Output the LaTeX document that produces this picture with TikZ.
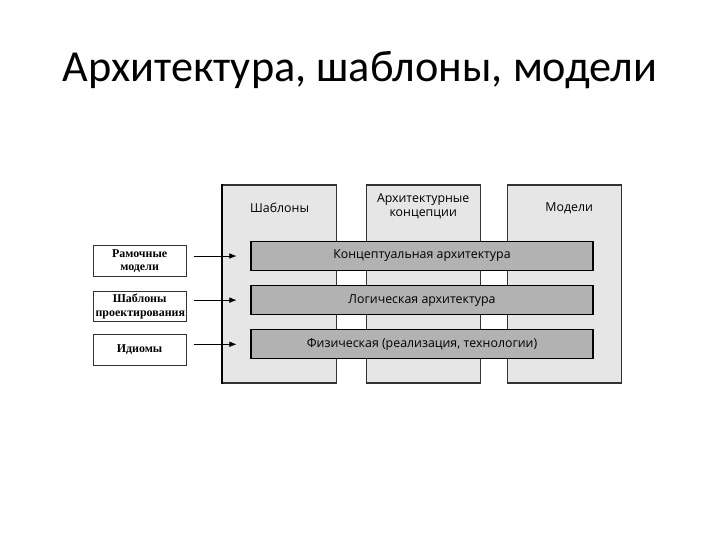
\documentclass[tikz,border=0pt]{standalone}
\usepackage{fontspec}
\usepackage{xcolor}
\usepackage{tikz}
\usetikzlibrary{arrows.meta,positioning,calc}
\newfontfamily\titlefont{Carlito}
\newfontfamily\labelfont{Open Sans}
\newfontfamily\boxfont{Liberation Serif}
\definecolor{colGray}{RGB}{230,230,230}
\definecolor{barGray}{RGB}{178,178,178}

\begin{document}
\begin{tikzpicture}[
        column/.style={draw=black!80, line width=0.8pt,
                       fill=colGray,
                       minimum width=2.85cm, minimum height=4.95cm},
        layer/.style={draw=black, line width=0.8pt,
                      fill=barGray, font=\labelfont\fontsize{8.8}{10}\selectfont,
                      minimum width=8.55cm, minimum height=0.72cm},
        collabel/.style={font=\labelfont\fontsize{8.8}{10}\selectfont,
                         align=center, anchor=north},
        source/.style={draw=black!80, line width=0.6pt,
                       text width=2.2cm, align=center, inner sep=1pt,
                       font=\boxfont\bfseries\fontsize{8.5}{9.5}\selectfont,
                       minimum width=2.325cm, minimum height=0.76cm},
        arr/.style={-{Latex[length=5pt,width=4pt]}, thin, black},
        node distance=0.355cm]
        \useasboundingbox (0,0) rectangle (18,-13.5);
        % title
        \node[font=\titlefont\fontsize{31.5}{36}\selectfont] (title)
          at (9,-1.75) {Архитектура, шаблоны, модели};
        % columns
        \node[column] (patterns) at (6.99,-7.1) {};
        \node[column] (concepts) at (10.58,-7.1) {};
        \node[column] (models)   at (14.11,-7.1) {};
        \draw[line width=1pt] (patterns.north west) -- (patterns.south west);
        \node[collabel] (patternsl) at ([yshift=-0.33cm]patterns.north)
          {Шаблоны};
        \node[collabel] (conceptsl) at ([yshift=-0.1cm]concepts.north)
          {Архитектурные\\концепции};
        \node[collabel] (modelsl) at ([xshift=0.12cm,yshift=-0.33cm]models.north)
          {Модели};
        % layers
        \node[layer] (conceptual) at (10.55,-6.4)
          {Концептуальная архитектура};
        \node[layer, below=of conceptual] (logical)
          {Логическая архитектура};
        \node[layer, below=of logical] (physical)
          {Физическая (реализация, технологии)};
        % sources
        \node[source] (frame) at (3.49,-6.525)
          {Рамочные\\модели};
        \node[source, below=0.36cm of frame] (design)
          {Шаблоны\\проектирования};
        \node[source, below=0.3cm of design] (idioms)
          {Идиомы};
        \draw[arr] ([xshift=0.175cm]frame.east |- conceptual.west)
          -- ([xshift=-0.35cm]conceptual.west);
        \draw[arr] ([xshift=0.175cm]design.east |- logical.west)
          -- ([xshift=-0.35cm]logical.west);
        \draw[arr] ([xshift=0.175cm]idioms.east |- physical.west)
          -- ([xshift=-0.35cm]physical.west);
      \end{tikzpicture}
\end{document}
